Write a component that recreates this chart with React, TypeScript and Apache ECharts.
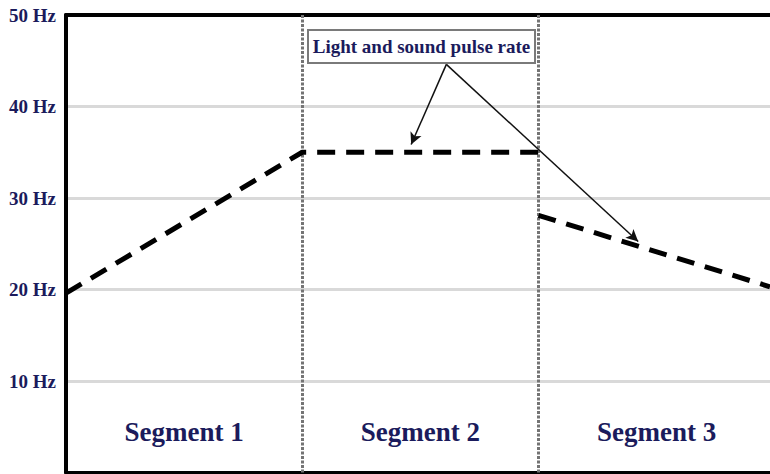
import React, { useEffect, useRef } from "react";
import * as echarts from "echarts";

// ---- data ----
const yTickValues = [0, 10, 20, 30, 40, 50];
const segmentLabels = ["Segment 1", "Segment 2", "Segment 3"];
const segmentCenters = [0.5, 1.5, 2.5];
const segmentLabelLevel = [4.4, 4.4, 4.4];
const segmentDividers = [1, 2];
const rampHoldX = [0, 1, 2];
const rampHoldY = [19.6, 35, 35];
const decayX = [2, 2.98];
const decayY = [28.1, 20.3];
const annotationText = "Light and sound pulse rate";
const arrowStart = [1.61, 44.6];
const arrowTips = [
  [1.461, 35.84],
  [2.422, 25.25],
];

const NAVY = "#1b1b5c";
const SERIF = "'Liberation Serif', 'Times New Roman', serif";

export default function App() {
  const ref = useRef<HTMLDivElement>(null);

  useEffect(() => {
    if (!ref.current) return;
    const chart = echarts.init(ref.current, undefined, { renderer: "svg" });

    const lineStyle = { color: "#000", width: 5, type: [18, 11] as number[], cap: "butt" as const };

    chart.setOption({
      animation: false,
      backgroundColor: "#fff",
      grid: { left: 66, right: 0, top: 15, bottom: 1.5 },
      xAxis: [
        {
          type: "value",
          min: 0,
          max: 2.98,
          axisLine: { show: true, onZero: false, lineStyle: { color: "#000", width: 3 } },
          axisTick: { show: false },
          axisLabel: { show: false },
          splitLine: { show: false },
        },
        {
          type: "value",
          position: "top",
          min: 0,
          max: 2.98,
          axisLine: { show: true, onZero: false, lineStyle: { color: "#000", width: 4 } },
          axisTick: { show: false },
          axisLabel: { show: false },
          splitLine: { show: false },
        },
      ],
      yAxis: {
        type: "value",
        min: yTickValues[0],
        max: yTickValues[yTickValues.length - 1],
        interval: 10,
        axisLine: { show: true, lineStyle: { color: "#000", width: 4 } },
        axisTick: { show: false },
        axisLabel: {
          color: NAVY,
          fontFamily: SERIF,
          fontWeight: "bold",
          fontSize: 19,
          margin: 10,
          formatter: (v: number) => (v === 0 ? "" : `${v} Hz`),
        },
        splitLine: { show: true, lineStyle: { color: "#d9d9d9", width: 3 } },
      },
      series: [
        {
          type: "line",
          data: rampHoldX.map((x, i) => [x, rampHoldY[i]]),
          showSymbol: false,
          lineStyle,
          z: 3,
          markLine: {
            silent: true,
            symbol: "none",
            label: { show: false },
            lineStyle: { color: "#747474", width: 3, type: [3, 1.5] },
            data: segmentDividers.map((x) => ({ xAxis: x })),
            z: 2,
          },
        },
        {
          type: "line",
          data: decayX.map((x, i) => [x, decayY[i]]),
          showSymbol: false,
          lineStyle,
          z: 3,
          markLine: {
            silent: true,
            symbol: ["none", "arrow"],
            symbolSize: [9, 12],
            label: { show: false },
            lineStyle: { color: "#111", width: 1.5, type: "solid" },
            data: arrowTips.map((tip) => [
              { coord: arrowStart, symbol: "none" },
              { coord: tip, symbol: "arrow" },
            ]),
            z: 4,
          },
        },
        {
          type: "scatter",
          symbolSize: 0,
          silent: true,
          itemStyle: { opacity: 1 },
          data: segmentCenters.map((x, i) => [x, segmentLabelLevel[i], segmentLabels[i]]),
          label: {
            show: true,
            position: "inside",
            color: NAVY,
            opacity: 1,
            fontFamily: SERIF,
            fontWeight: "bold",
            fontSize: 27,
            formatter: (p: any) => p.data[2],
          },
        },
      ],
      graphic: [
        {
          type: "rect",
          shape: { x: 308, y: 30, width: 227, height: 33 },
          style: { fill: "#fff", stroke: "#7a7a7a", lineWidth: 2 },
          z: 10,
        },
        {
          type: "text",
          x: 421.5,
          y: 46.5,
          style: {
            text: annotationText,
            fill: NAVY,
            font: `bold 19px ${SERIF}`,
            align: "center",
            verticalAlign: "middle",
          },
          z: 11,
        },
      ],
    });

    return () => chart.dispose();
  }, []);

  return (
    <div
      ref={ref}
      style={{ position: "fixed", left: 0, top: 0, width: 770, height: 474, background: "#fff" }}
    />
  );
}
